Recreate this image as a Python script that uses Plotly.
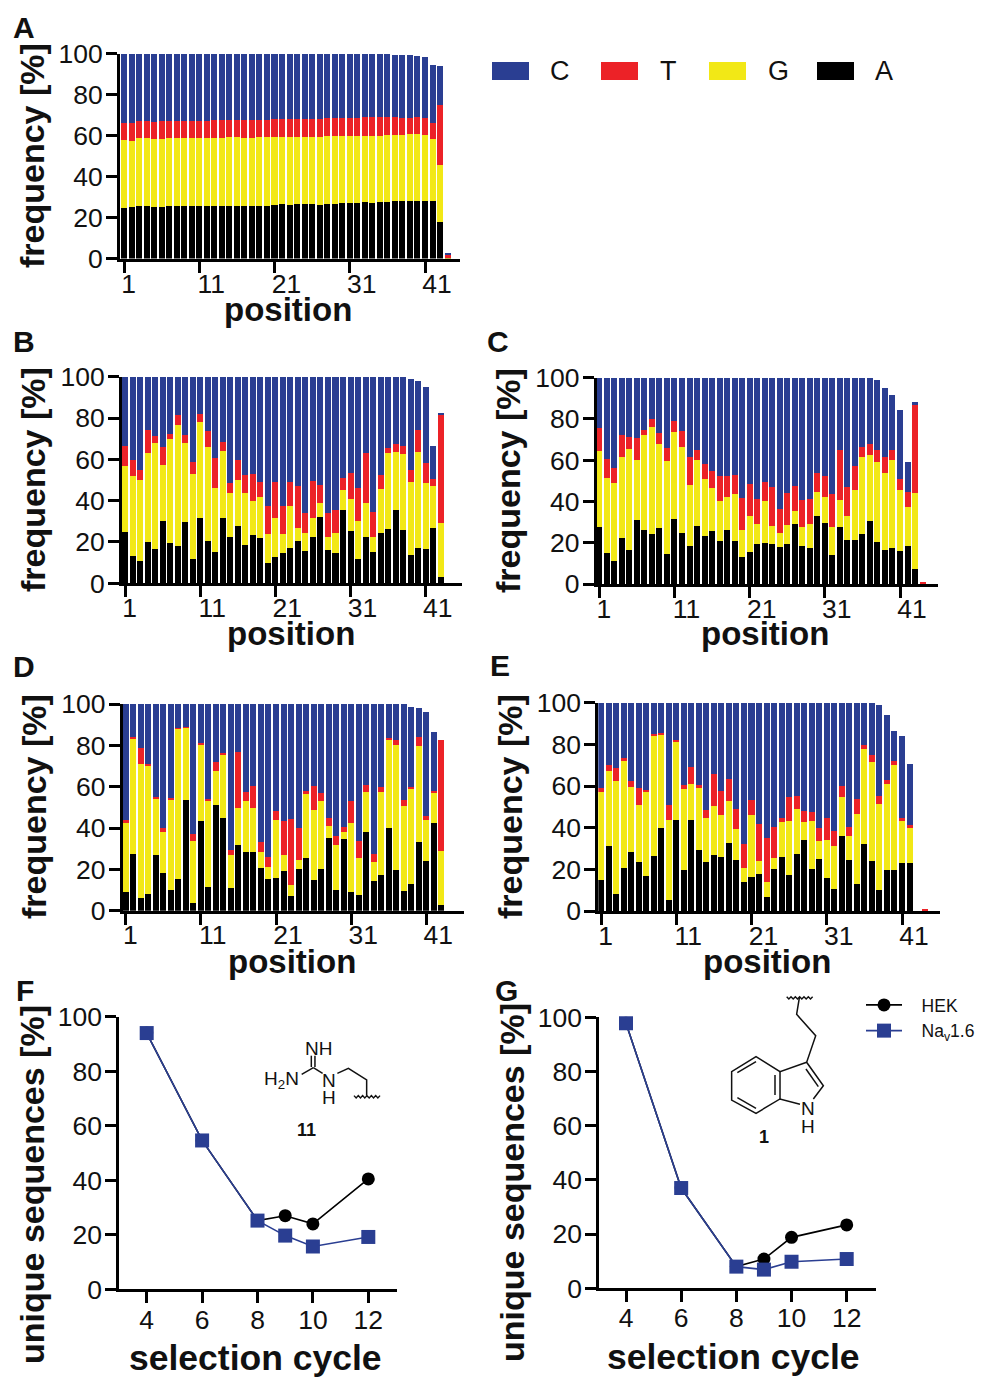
import numpy as np
import plotly.graph_objects as go

W, H = 983, 1378
positions = list(range(1, 45))
tick_vals = [1, 11, 21, 31, 41]
tick_labels = ["1\u00a0\u00a0", "11", "21", "31", "41"]
freq_ticks = [0, 20, 40, 60, 80, 100]
base_names = ["A", "G", "T", "C"]
base_colors = {"C": "#2a3e92", "T": "#ec2227", "G": "#f2e816", "A": "#000000"}

# Stack boundaries (top of A, G, T, C at each position)
A_a = [24.5,25,25.5,25.5,25,25.2,25.5,25.5,25.5,25.5,25.5,25.5,25.5,25.7,25.7,25.7,25.5,25.5,25.7,25.7,26.2,26.7,26.2,26.6,26.7,26.7,26.3,26.7,26.8,27,27,27.1,27.5,27.3,27.7,27.7,28,28,28,28,28,28,17.7,0.4]
A_g = [58,57.5,58.7,58.7,58.5,58.5,58.7,58.7,59,59,59,59,59,59,59.2,59.2,59,59,59.2,59.2,59.5,59.5,59.5,59.5,59.5,59.5,59.5,59.7,59.7,60,60,60,60,60,60,60.2,60.2,60.2,60.5,60.5,60.2,58.5,45.5,0.9]
A_t = [66,66.2,67.2,67.2,66.8,67,67.2,67.2,67.2,67.2,67.2,67.2,67.4,67.4,67.4,67.4,67.5,67.5,67.5,67.7,68,68.2,68,68,68.2,68.2,68.2,68.4,68.4,68.4,68.4,68.5,69,69,69,69,69.2,68.7,68.7,69.2,68.4,66.2,75,1.5]
A_c = [100]*36 + [99.5,99.5,99.2,99,98.3,94.5,94,2.5]

B_a = [25,13,11,20,16.5,30,19.5,18,29.5,12,31.5,20.5,15,31.5,22.5,27.5,18.5,23.5,22,10,12.5,14.5,17,20.5,15.5,22.5,32,16,14.5,35.5,25.5,12,22.5,15,24.5,26.5,35.5,26,13.5,17,16.5,27,3,0]
B_g = [57,52,50,63,68,57.5,70,76.5,68,53,78,66,46,64,43.5,50,43.5,40,42,24,31.5,24,37.5,27,24.5,31.5,39,22.5,24.5,45,41,30,39,22.5,45.5,63,63.5,62.5,49,63.5,48.5,47,29,0]
B_t = [66.5,59.5,55,74,71.5,66,72.5,81.5,72,58.5,82,73.5,60.5,68.5,48.5,59.5,52.5,53,49,37.5,49,37.5,49,47,34,49.5,47.5,34,35.5,51,53.5,46,63,34.5,52.5,65.5,67.5,66.5,55,74,58,50.5,82,0]
B_c = [100]*38 + [99,98,95,66.5,82.5,0]

C_a = [27.5,15,11,22.5,16.5,31,26,24,27,14.5,31.5,24.5,18.5,28,23.5,25.5,21,26,21,13,15.5,19.5,20,19.5,18,19.5,29,18.5,17.5,33,29.5,14,27.5,21.5,21.5,24,30.5,20.5,16.5,17.5,16,18.5,7.5,0]
C_g = [64.5,51.5,49,61.5,65.5,60,72,76,68,59.5,73.5,66.5,48,60,51,46.5,40,42,43.5,26,33,29,40,28,24.5,28.5,35.5,27.5,29,44.5,42,27.5,40.5,33,45.5,61.5,62.5,59,54,60,45.5,37.5,44,0.3]
C_t = [75.5,60.5,56,72,71.5,71,74.5,80,73,66,79,74,61.5,65,58,55,52.5,52.5,53,41.5,48.5,41,49.5,47,36.5,44,47.5,40.5,41,54,52.5,43.5,65,47,57,66.5,68,65,61.5,65,51,44.5,87,0.8]
C_c = [100]*37 + [99,95,91.5,84.5,59,88,0.8]

D_a = [9,27.5,6,8,27,18,10,15.5,53.5,3.5,43.5,11.5,51,45,11,32,28.5,28.5,20.5,15.5,16,19,7,20,25.5,15,20,35,10,34.5,9,7.5,38,14.5,17.5,40,19.5,9.5,13,33,24,42.5,3,0]
D_g = [42.5,83,71,70,54,38,54,88,88.5,33.5,80,53,67.5,75.5,27,49.5,53,49.5,28.5,21,44,27,12.5,24.5,56.5,48.5,53,41,32,38,42.5,25.5,57.5,23.5,57.5,83,80,50.5,59,79.5,44,57,29,0]
D_t = [44,84,78.5,71,55,40,54.5,88.5,89,37,81,54,72,76.5,29.5,77,57.5,60.5,33,26,48,43.5,44.5,40,58,60.5,57,45,36,40.5,53,33.5,61,27.5,60,83.5,82.5,53.5,60,84,46,58,82.5,0]
D_c = [100]*38 + [98.5,98,96,86.5,82.5,0]

E_a = [15,31,8,20.5,28.5,23.5,17,26.5,40,5.5,43.5,19.5,43.5,29.5,23.5,27,26,32.5,24.5,14,16.5,18,6.5,20,26,17.5,27.5,34,20,25,16,10.5,36,24.5,13,32,24,10,19.5,19.5,23,23,0,0]
E_g = [57,67,62.5,72,59.5,51,57,84.5,84.5,43.5,81,58.5,61,59,44.5,50.5,46,53,39.5,20.5,46,24,14,25.5,42.5,43,49,42.5,43,33.5,34,31,54.5,36,46.5,78,71.5,51.5,61,70,43,40,0,0]
E_t = [59,70,68.5,73.5,62.5,59,58,85,85.5,51,82,60.5,69,60.5,48.5,66,57.5,63.5,49,32,53.5,42,35,40.5,44.5,54.5,55,48,47.5,40,44.5,38.5,60,40.5,54,79.5,75,55,63,72,44.5,41.5,0,0.8]
E_c = [100]*37 + [99,94,86.5,84,70.5,0,0.8]

cycles = [4, 6, 8, 9, 10, 12]
unique_ticks = [0, 20, 40, 60, 80, 100]
F_hek = [94, 54.6, 25.2, 27, 24, 40.5]
F_nav = [94, 54.6, 25.2, 19.7, 15.7, 19.2]
G_hek = [97.8, 37, 8, 10.8, 18.8, 23.4]
G_nav = [97.8, 37, 8, 6.9, 9.8, 10.8]

FONT = "Liberation Sans"
TICK_SIZE = 26.5
PAD = "\u00a0\u00a0\u00a0"


def px(x):
    return x / W


def py(y):
    return 1 - y / H


layout = dict(
    width=W, height=H, margin=dict(l=0, r=0, t=0, b=0, pad=0, autoexpand=False), autosize=False,
    paper_bgcolor="white", plot_bgcolor="white",
    barmode="stack", bargap=0.2,
    font=dict(family=FONT, color="#111111", size=TICK_SIZE),
    legend=dict(x=px(861), y=py(987), xanchor="left", yanchor="top", bgcolor="rgba(0,0,0,0)",
                font=dict(size=17.5, family=FONT), itemwidth=36, tracegroupgap=2, itemclick=False,
                traceorder="normal"),
)
fig = go.Figure()
annotations = []
shapes = []
axis_id = 0


def add_axes(axis_px, end_px, a_px, a_val, b_px, b_val, y0_px, y100_px, tvals, ttext, yticks, shift=0, standoff=-8):
    global axis_id
    axis_id += 1
    n = "" if axis_id == 1 else str(axis_id)
    unit = (b_px - a_px) / (b_val - a_val)
    xr = [a_val + (axis_px - a_px) / unit, a_val + (end_px - a_px) / unit]
    common = dict(showgrid=False, zeroline=False, showline=True, linecolor="#000000", linewidth=3,
                  ticks="outside", tickcolor="#000000", tickwidth=2.5, ticklen=11,
                  tickfont=dict(size=TICK_SIZE, family=FONT, color="#111111"))
    layout["xaxis" + n] = dict(domain=[px(axis_px), px(end_px)], range=xr, anchor="y" + n,
                               tickmode="array", tickvals=tvals, ticktext=ttext,
                               ticklabelshift=shift, ticklabelstandoff=standoff, **common)
    layout["yaxis" + n] = dict(domain=[py(y0_px), py(y100_px)], range=[0, 100], anchor="x" + n,
                               tickmode="array", tickvals=yticks, ticktext=[str(v) for v in yticks],
                               ticklabelstandoff=-2, **common)
    return "x" + n, "y" + n


def add_panel(tops, geom, standoff):
    xa, ya = add_axes(*geom, tick_vals, tick_labels, freq_ticks, shift=12, standoff=standoff)
    segments = np.diff(np.vstack([np.zeros(len(positions)), np.array(tops, dtype=float)]), axis=0)
    for name, seg in zip(base_names, segments):
        fig.add_trace(go.Bar(x=positions, y=seg, name=name, showlegend=False,
                             marker=dict(color=base_colors[name], line=dict(width=0)),
                             xaxis=xa, yaxis=ya))


add_panel([A_a, A_g, A_t, A_c], (120, 460, 124, 1, 425, 41, 258.5, 53.5), -11)
add_panel([B_a, B_g, B_t, B_c], (122, 461.7, 125, 1, 425.7, 41, 583.3, 376.7), -12)
add_panel([C_a, C_g, C_t, C_c], (596.7, 938, 599.3, 1, 900, 41, 584, 377.7), -12)
add_panel([D_a, D_g, D_t, D_c], (122.7, 464, 125.7, 1, 426.3, 41, 910.7, 704), -13)
add_panel([E_a, E_g, E_t, E_c], (598.3, 940, 601, 1, 902, 41, 911, 702.7), -12)

cyc_ticks = [4, 6, 8, 10, 12]
cyc_text = [str(v) for v in cyc_ticks]


def add_lines(hek, nav, geom, legend, standoff):
    xa, ya = add_axes(*geom, cyc_ticks, cyc_text, unique_ticks, standoff=standoff)
    fig.add_trace(go.Scatter(x=cycles, y=hek, name=PAD + "HEK", mode="lines+markers", xaxis=xa, yaxis=ya,
                             line=dict(color="#000000", width=1.6), showlegend=legend, cliponaxis=False,
                             marker=dict(symbol="circle", size=13, color="#000000")))
    fig.add_trace(go.Scatter(x=cycles, y=nav, name=PAD + "Na<sub>v</sub>1.6", mode="lines+markers", xaxis=xa, yaxis=ya,
                             line=dict(color="#2a3e92", width=1.6), showlegend=legend, cliponaxis=False,
                             marker=dict(symbol="square", size=14, color="#2a3e92")))


add_lines(F_hek, F_nav, (119.3, 397.3, 146.7, 4, 368.3, 12, 1289.3, 1016.7), False, -6)
add_lines(G_hek, G_nav, (599.3, 875.7, 626, 4, 846.7, 12, 1288.3, 1017.3), True, -7)


def text(t, x, y, size, bold=False, angle=0, color="#111111"):
    annotations.append(dict(text="<b>%s</b>" % t if bold else t, x=px(x), y=py(y), xref="paper", yref="paper",
                            showarrow=False, xanchor="center", yanchor="middle", textangle=angle,
                            font=dict(size=size, family=FONT, color=color)))


for t, x, y in [("A", 24, 28), ("B", 24, 341), ("C", 498, 341), ("D", 24, 667), ("E", 500, 665), ("F", 25, 990), ("G", 506, 990)]:
    text(t, x, y, 30, bold=True)
for x, y in [(288, 309), (291, 634), (765, 634), (292, 961), (767, 961)]:
    text("position", x, y, 33, bold=True)
for x, y in [(32, 156), (33, 480), (508, 481), (34, 807), (510, 807)]:
    text("frequency [%]", x, y, 34, bold=True, angle=-90)
for x, y in [(255, 1358), (733, 1357)]:
    text("selection cycle", x, y, 35.5, bold=True)
for x, y in [(32, 1185), (512, 1183)]:
    text("unique sequences [%]", x, y, 34, bold=True, angle=-90)

# colour key
for name, x0, tx in [("C", 492, 560), ("T", 601, 668), ("G", 709, 778), ("A", 817, 884)]:
    shapes.append(dict(type="rect", xref="paper", yref="paper", x0=px(x0), x1=px(x0 + 37), y0=py(62), y1=py(80),
                       fillcolor=base_colors[name], line=dict(width=0)))
    text(name, tx, 71, 27)


def bond(pts, ox, oy, width=1.5):
    d = "M " + " L ".join("%.4f,%.4f" % (px(ox + a / 3), py(oy + b / 3)) for a, b in pts)
    shapes.append(dict(type="path", path=d, xref="paper", yref="paper", line=dict(color="#111111", width=width)))


def squiggle(x0, x1, y, ox, oy):
    xs = np.linspace(x0, x1, 13)
    pts = [(a, y + (4 if i % 2 else -3)) for i, a in enumerate(xs)]
    bond(pts, ox, oy, 1.4)


# compound 11
ox, oy = 0, 975
for seg in [[(905, 298), (940, 278)], [(934, 276), (934, 242)], [(945, 276), (945, 242)], [(940, 278), (968, 295)],
            [(1012, 295), (1045, 280), (1100, 315), (1100, 362)]]:
    bond(seg, ox, oy)
squiggle(1062, 1140, 365, ox, oy)
text("NH", 318, 975 + 220 / 3, 19)
text("H<sub>2</sub>N", 281, 975 + 316 / 3, 19)
text("N", 329, 975 + 315 / 3, 19)
text("H", 329, 975 + 368 / 3, 19)
text("11", 306, 975 + 465 / 3, 18, bold=True)

# compound 1
ox, oy = 480, 975
for seg in [[(958, 68), (950, 118), (1007, 182), (980, 262), (1030, 332), (1000, 372)],
            [(980, 262), (900, 290), (828, 245), (755, 290), (755, 375), (828, 415), (900, 372), (960, 388)],
            [(900, 290), (900, 372)],
            [(772, 293), (828, 260)], [(772, 368), (828, 400)], [(885, 300), (885, 360)], [(978, 282), (1015, 335)]]:
    bond(seg, ox, oy)
squiggle(920, 998, 68, ox, oy)
text("N", 480 + 985 / 3, 975 + 400 / 3, 19)
text("H", 480 + 985 / 3, 975 + 455 / 3, 19)
text("1", 480 + 853 / 3, 975 + 485 / 3, 18, bold=True)

layout["annotations"] = annotations
layout["shapes"] = shapes
fig.update_layout(**layout)
fig.write_html("out.html", config={"displayModeBar": False},
               post_script="document.body.style.margin='0';document.documentElement.style.overflow='hidden';")
